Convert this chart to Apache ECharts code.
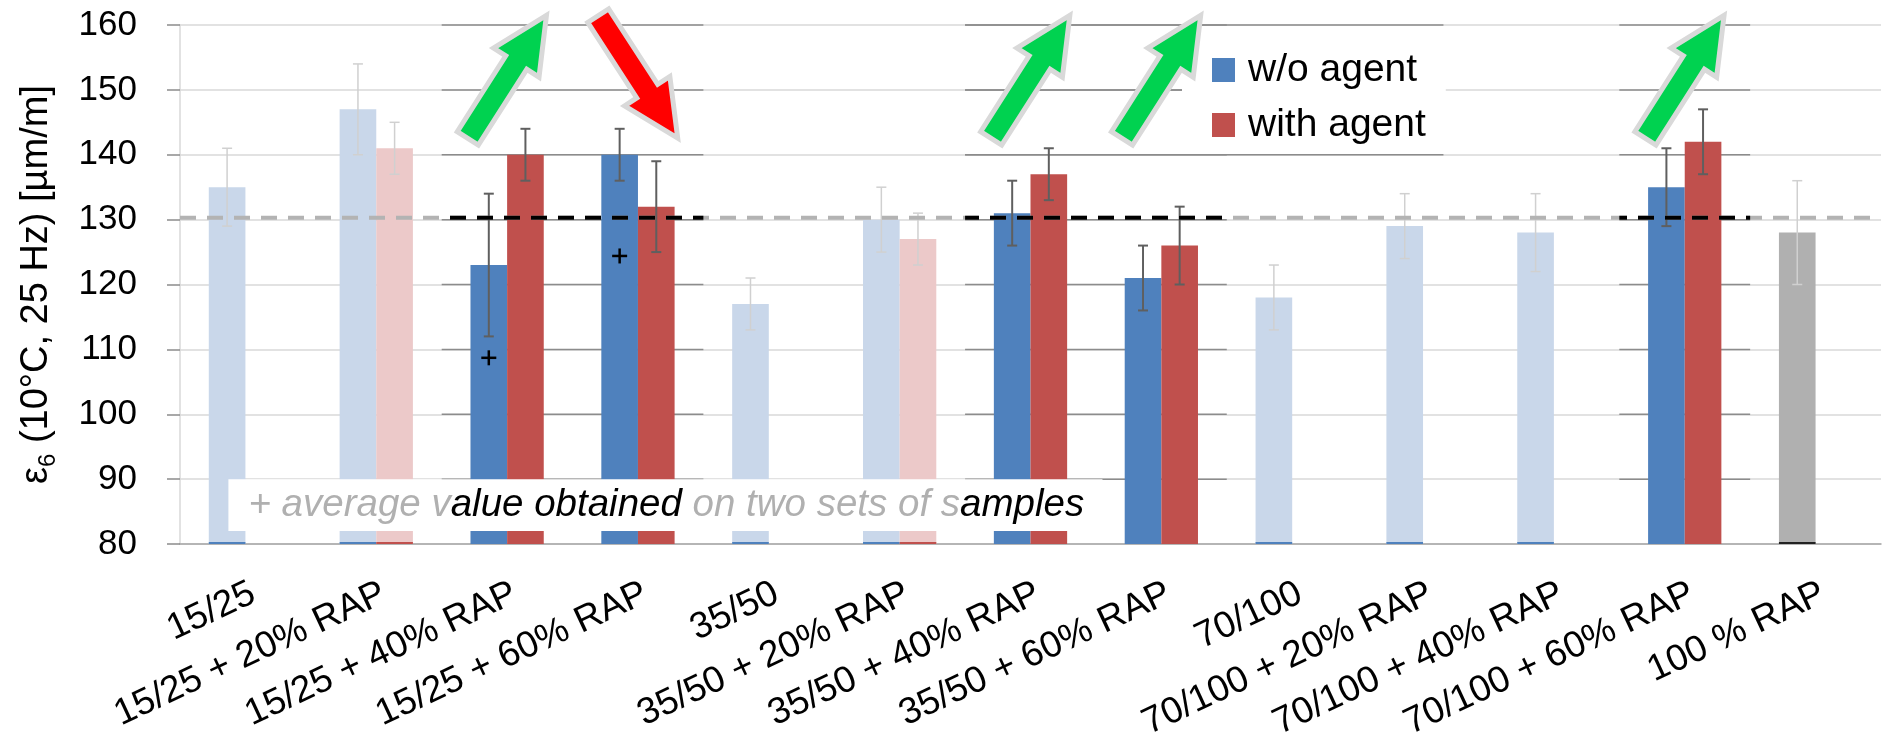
<!DOCTYPE html>
<html><head><meta charset="utf-8">
<script src="https://cdn.jsdelivr.net/npm/echarts@6/dist/echarts.min.js"></script>
<style>html,body{margin:0;padding:0;background:#fff}#c{width:1883px;height:736px}</style>
</head><body><div id="c"></div>
<script>
// ---------- data ----------
const categories = ['15/25','15/25 + 20% RAP','15/25 + 40% RAP','15/25 + 60% RAP','35/50','35/50 + 20% RAP','35/50 + 40% RAP','35/50 + 60% RAP','70/100','70/100 + 20% RAP','70/100 + 40% RAP','70/100 + 60% RAP','100 % RAP'];
const woAgent    = [135, 147, 123, 140, 117, 130, 131, 121, 118, 129, 128, 135, 128];
const woLow      = [129, 140, 112, 136, 113, 125, 126, 116, 113, 124, 122, 129, 120];
const woHigh     = [141, 154, 134, 144, 121, 135, 136, 126, 123, 134, 134, 141, 136];
const withAgent  = [null, 141, 140, 132, null, 127, 137, 126, null, null, null, 142, null];
const withLow    = [null, 137, 136, 125, null, 123, 133, 120, null, null, null, 137, null];
const withHigh   = [null, 145, 144, 139, null, 131, 141, 132, null, null, null, 147, null];
const highlightedCats = [2, 3, 6, 7, 11];
const referenceCategory = '100 % RAP';
const refValue = 130.3;
const plusCats = [2, 3];
const plusValues = [108.7, 124.4];
const arrowCats = [2, 3, 6, 7, 11];
const arrowDirs = [1, -1, 1, 1, 1];   // 1 = up (green), -1 = down (red)
const arrowValue = 152;
const yMin = 80, yMax = 160, yStep = 10;
const seriesNames = ['w/o agent', 'with agent'];
const notePieces = [['+ average v', 0], ['alue obtained ', 1], ['on two sets of s', 0], ['amples', 1]];
const noteBox = [0.37, 90, 7.05, 82];
const legendPanelEnd = 9.656;
const legendPanelValues = [140, 150, 160];

// ---------- styles ----------
const BLUE = '#4f81bd', RED = '#c0504d', FBLUE = '#c9d7ea', FRED = '#ecc9c9', GRAY = '#b0b0b0';
const LIGHT_GRID = '#d9d9d9', DARK_GRID = '#8c8c8c';
const FONT = 'Liberation Sans';
const BAR_FRAC = 0.28;

const isHl = i => highlightedCats.indexOf(i) >= 0;
function runs(idxs) {
  const s = idxs.slice().sort((a, b) => a - b), out = [];
  s.forEach(i => {
    const last = out[out.length - 1];
    if (last && last[1] === i) last[1] = i + 1; else out.push([i, i + 1]);
  });
  return out;
}
const hlRuns = runs(highlightedCats);

const woData = woAgent.map((v, i) => ({
  value: v,
  itemStyle: { color: categories[i] === referenceCategory ? GRAY : (isHl(i) ? BLUE : FBLUE) }
}));
const withData = withAgent.map((v, i) => ({
  value: v,
  itemStyle: { color: isHl(i) ? RED : FRED }
}));

const errData = [];
woAgent.forEach((v, i) => { if (v != null) errData.push([i, woLow[i], woHigh[i], 0, isHl(i) ? 1 : 0, categories[i] === referenceCategory ? 1 : 0]); });
withAgent.forEach((v, i) => { if (v != null) errData.push([i, withLow[i], withHigh[i], 1, isHl(i) ? 1 : 0, 0]); });

const gridSegs = [];
hlRuns.forEach(r => { for (let v = yMin + yStep; v <= yMax; v += yStep) gridSegs.push([r[0], r[1], v]); });
legendPanelValues.forEach(v => gridSegs.push([hlRuns[1][0], legendPanelEnd, v]));

const refSegs = [[0, categories.length, refValue, 0]];
hlRuns.forEach(r => refSegs.push([r[0], r[1], refValue, 1]));

const plusData = plusCats.map((c, k) => [c, plusValues[k]]);
const arrowData = arrowCats.map((c, k) => [c, arrowValue, arrowDirs[k]]);

const chart = echarts.init(document.getElementById('c'), null, { renderer: 'canvas' });

const option = {
  animation: false,
  textStyle: { fontFamily: FONT },
  grid: { left: 180, right: 2, top: 25, bottom: 192, containLabel: false, outerBoundsMode: 'none' },
  legend: {
    data: seriesNames,
    orient: 'vertical',
    left: 1182, top: 40,
    padding: [8, 20, 0, 30],
    backgroundColor: '#fff',
    icon: 'rect',
    itemWidth: 23, itemHeight: 24, itemGap: 11,
    selectedMode: false,
    textStyle: { fontSize: 39, color: '#000', lineHeight: 44, fontFamily: FONT, padding: [0, 0, 0, 8] }
  },
  xAxis: [
    {
      type: 'category', data: categories,
      axisLine: { lineStyle: { color: '#a6a6a6', width: 1.5 } },
      axisTick: { length: 13, lineStyle: { color: '#a6a6a6', width: 1.5 } },
      axisLabel: { rotate: 25, fontSize: 37, color: '#000', margin: 31, interval: 0, align: 'right', verticalAlign: 'top', fontFamily: FONT },
      splitLine: { show: false }
    },
    { type: 'value', min: 0, max: categories.length, show: false }
  ],
  yAxis: {
    type: 'value', min: yMin, max: yMax, interval: yStep,
    axisLine: { show: true, lineStyle: { color: LIGHT_GRID, width: 1.5 } },
    axisTick: { show: true, length: 13, lineStyle: { color: DARK_GRID, width: 1.5 } },
    axisLabel: { fontSize: 35, color: '#000', margin: 43, fontFamily: FONT },
    splitLine: { lineStyle: { color: LIGHT_GRID, width: 1.5 } },
    name: '{n|ε}{s|6}{n| (10°C, 25 Hz) [µm/m]}',
    nameLocation: 'middle', nameGap: 120, nameRotate: 90,
    nameTextStyle: {
      fontSize: 38, color: '#000', fontFamily: FONT,
      rich: {
        n: { fontSize: 38, color: '#000', fontFamily: FONT, lineHeight: 46 },
        s: { fontSize: 24, color: '#000', fontFamily: FONT, lineHeight: 18, verticalAlign: 'bottom' }
      }
    }
  },
  series: [
    {
      name: 'darkGrid', type: 'custom', xAxisIndex: 1, yAxisIndex: 0, z: 1, silent: true,
      data: gridSegs, encode: { x: [0, 1], y: 2 },
      renderItem: (p, api) => {
        const a = api.coord([api.value(0), api.value(2)]), b = api.coord([api.value(1), api.value(2)]);
        return { type: 'line', shape: { x1: a[0], y1: a[1], x2: b[0], y2: b[1] }, style: { stroke: DARK_GRID, lineWidth: 1.5 } };
      }
    },
    { name: seriesNames[0], type: 'bar', data: woData, itemStyle: { color: BLUE }, barGap: '0%', barCategoryGap: '44%', z: 2 },
    { name: seriesNames[1], type: 'bar', data: withData, itemStyle: { color: RED }, barGap: '0%', barCategoryGap: '44%', z: 2 },
    {
      name: 'err', type: 'custom', xAxisIndex: 0, yAxisIndex: 0, z: 3, silent: true,
      data: errData, encode: { x: 0, y: [1, 2] },
      renderItem: (p, api) => {
        const i = api.value(0), lo = api.value(1), hi = api.value(2), s = api.value(3), hl = api.value(4), ref = api.value(5);
        const cw = api.size([1, 0])[0], bw = cw * BAR_FRAC;
        const c = api.coord([i, lo]);
        const xc = c[0] + (s === 0 ? -bw / 2 : bw / 2);
        const yl = c[1], yh = api.coord([i, hi])[1], yb = api.coord([i, yMin])[1];
        const col = hl ? '#5f5f5f' : '#d0d0d0', lw = hl ? 2 : 1.5, cap = 5;
        const ch = [
          { type: 'line', shape: { x1: xc, y1: yl, x2: xc, y2: yh }, style: { stroke: col, lineWidth: lw } },
          { type: 'line', shape: { x1: xc - cap, y1: yl, x2: xc + cap, y2: yl }, style: { stroke: col, lineWidth: lw } },
          { type: 'line', shape: { x1: xc - cap, y1: yh, x2: xc + cap, y2: yh }, style: { stroke: col, lineWidth: lw } }
        ];
        if (!hl) {
          ch.push({ type: 'rect', shape: { x: xc - bw / 2, y: yb - 2, width: bw, height: 2 }, style: { fill: ref ? '#222' : (s === 0 ? BLUE : RED) } });
        }
        return { type: 'group', children: ch };
      }
    },
    {
      name: 'refLine', type: 'custom', xAxisIndex: 1, yAxisIndex: 0, z: 4, silent: true,
      data: refSegs, encode: { x: [0, 1], y: 2 },
      renderItem: (p, api) => {
        const v = api.value(2);
        const o = api.coord([0, v]), a = api.coord([api.value(0), v]), b = api.coord([api.value(1), v]);
        const black = api.value(3) === 1;
        return { type: 'line', shape: { x1: a[0], y1: a[1], x2: b[0], y2: b[1] },
          style: { stroke: black ? '#000' : '#b3b3b3', lineWidth: 4, lineDash: [16, 11], lineDashOffset: a[0] - o[0] } };
      }
    },
    {
      name: 'plus', type: 'custom', xAxisIndex: 0, yAxisIndex: 0, z: 4, silent: true,
      data: plusData, encode: { x: 0, y: 1 },
      renderItem: (p, api) => {
        const cw = api.size([1, 0])[0], bw = cw * BAR_FRAC;
        const c = api.coord([api.value(0), api.value(1)]);
        const x = c[0] - bw / 2, y = c[1], h = 7.5;
        return { type: 'group', children: [
          { type: 'line', shape: { x1: x - h, y1: y, x2: x + h, y2: y }, style: { stroke: '#000', lineWidth: 2.5 } },
          { type: 'line', shape: { x1: x, y1: y - h, x2: x, y2: y + h }, style: { stroke: '#000', lineWidth: 2.5 } }
        ] };
      }
    },
    {
      name: 'note', type: 'custom', xAxisIndex: 1, yAxisIndex: 0, z: 5, silent: true,
      data: [noteBox], encode: { x: [0, 2], y: [1, 3] },
      renderItem: (p, api) => {
        const a = api.coord([api.value(0), api.value(1)]), b = api.coord([api.value(2), api.value(3)]);
        const base = { fontSize: 38.5, fontStyle: 'italic', fontFamily: FONT };
        const txt = notePieces.map(pc => '{' + (pc[1] ? 'b' : 'g') + '|' + pc[0] + '}').join('');
        return { type: 'group', children: [
          { type: 'rect', shape: { x: a[0], y: a[1], width: b[0] - a[0], height: b[1] - a[1] }, style: { fill: '#fff' } },
          { type: 'text', x: a[0] + 20, y: (a[1] + b[1]) / 2, style: Object.assign({
              text: txt, verticalAlign: 'middle', align: 'left', fill: '#b0b0b0',
              rich: { g: Object.assign({ fill: '#b0b0b0', color: '#b0b0b0' }, base), b: Object.assign({ fill: '#000', color: '#000' }, base) }
            }, base) }
        ] };
      }
    },
    {
      name: 'arrows', type: 'custom', xAxisIndex: 0, yAxisIndex: 0, z: 10, silent: true, clip: false,
      data: arrowData, encode: { x: 0, y: 1 },
      renderItem: (p, api) => {
        const c = api.coord([api.value(0), api.value(1)]);
        const up = api.value(2) > 0;
        const ang = (up ? 32.6 : 147) * Math.PI / 180;
        const f = [Math.sin(ang), -Math.cos(ang)], n = [-f[1], f[0]];
        const AL = 73, HL = 56, HW = 27, SW = 12.5;
        const loc = [[AL, 0], [AL - HL, HW], [AL - HL, SW], [-AL, SW], [-AL, -SW], [AL - HL, -SW], [AL - HL, -HW]];
        const pts = loc.map(q => [c[0] + q[0] * f[0] + q[1] * n[0], c[1] + q[0] * f[1] + q[1] * n[1]]);
        return { type: 'polygon', shape: { points: pts }, style: { fill: up ? '#00d250' : '#ff0000', stroke: '#d9d9d9', lineWidth: 5, lineJoin: 'miter' } };
      }
    }
  ]
};
chart.setOption(option);
</script></body></html>
